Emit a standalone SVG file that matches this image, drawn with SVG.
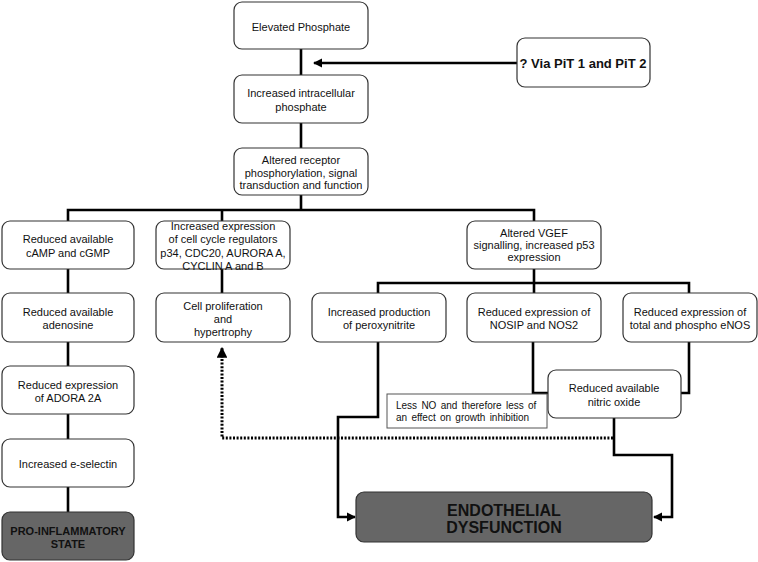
<svg xmlns="http://www.w3.org/2000/svg" width="758" height="562" viewBox="0 0 758 562">
<style>
.box{fill:#fff;stroke:#333;stroke-width:1.2}
.dark{fill:#666;stroke:#333;stroke-width:1.2}
.note{fill:#fff;stroke:#555;stroke-width:1}
.t{font-family:"Liberation Sans",Arial,sans-serif;font-size:11px;fill:#111;text-anchor:middle}
.b{font-family:"Liberation Sans",Arial,sans-serif;font-weight:bold;fill:#111;text-anchor:middle}
.s{font-family:"Liberation Sans",Arial,sans-serif;font-size:10px;fill:#111;word-spacing:1.5px}
.ln{fill:none;stroke:#000;stroke-width:2.6}
.dot{fill:none;stroke:#000;stroke-width:3;stroke-dasharray:2,1.6}
</style>
<defs>
<marker id="ah" viewBox="0 0 10 10" refX="9" refY="5" markerWidth="3.6" markerHeight="3.6" orient="auto" markerUnits="strokeWidth">
<path d="M0,0 L10,5 L0,10 z" fill="#000"/>
</marker>
</defs>
<g id="connectors">
<line class="ln" x1="301" y1="49" x2="301" y2="75"/>
<line class="ln" x1="301" y1="123" x2="301" y2="148"/>
<line class="ln" x1="517" y1="63" x2="314" y2="63" marker-end="url(#ah)"/>
<line class="ln" x1="301" y1="195" x2="301" y2="210"/>
<polyline class="ln" points="68,221 68,210 534,210 534,221"/>
<line class="ln" x1="222" y1="210" x2="222" y2="221"/>
<line class="ln" x1="68" y1="269" x2="68" y2="293"/>
<line class="ln" x1="68" y1="342" x2="68" y2="366"/>
<line class="ln" x1="68" y1="414" x2="68" y2="439"/>
<line class="ln" x1="68" y1="487" x2="68" y2="512"/>
<line class="ln" x1="222" y1="269" x2="222" y2="293"/>
<line class="ln" x1="534" y1="269" x2="534" y2="283"/>
<polyline class="ln" points="378,293 378,283 689,283 689,293"/>
<line class="ln" x1="534" y1="283" x2="534" y2="293"/>
<polyline class="ln" points="533,342 533,393 548,393"/>
<polyline class="ln" points="689,342 689,393 681,393"/>
<polyline class="ln" points="378,342 378,417 338,417 338,517 355,517" marker-end="url(#ah)"/>
<polyline class="ln" points="614,418 614,455 672,455 672,517 654,517" marker-end="url(#ah)"/>
<polyline class="dot" points="613,438 222,438 222,348" marker-end="url(#ah)"/>
</g>
<g id="n-elevated"><rect class="box" x="234" y="2" width="134" height="47" rx="8"/><text class="t" x="301" y="31">Elevated Phosphate</text></g>
<g id="n-pit"><rect class="box" x="517" y="38" width="133" height="49" rx="8"/><text class="b" x="583" y="68" font-size="13">? Via PiT 1 and PiT 2</text></g>
<g id="n-intracellular"><rect class="box" x="234" y="75" width="134" height="48" rx="8"/><text class="t" x="301" y="97">Increased intracellular</text><text class="t" x="301" y="111">phosphate</text></g>
<g id="n-receptor"><rect class="box" x="234" y="148" width="134" height="47" rx="8"/><text class="t" x="301" y="164">Altered receptor</text><text class="t" x="301" y="177">phosphorylation, signal</text><text class="t" x="301" y="189">transduction and function</text></g>
<g id="n-camp"><rect class="box" x="2" y="221" width="132" height="48" rx="8"/><text class="t" x="68" y="243">Reduced available</text><text class="t" x="68" y="257">cAMP and cGMP</text></g>
<g id="n-cellcycle"><rect class="box" x="156" y="221" width="134" height="48" rx="8"/><text class="t" x="223" y="230">Increased expression</text><text class="t" x="223" y="243">of cell cycle regulators</text><text class="t" x="223" y="257">p34, CDC20, AURORA A,</text><text class="t" x="223" y="270">CYCLIN A and B</text></g>
<g id="n-vgef"><rect class="box" x="467" y="221" width="134" height="48" rx="8"/><text class="t" x="534" y="237">Altered VGEF</text><text class="t" x="534" y="249">signalling, increased p53</text><text class="t" x="534" y="261">expression</text></g>
<g id="n-adenosine"><rect class="box" x="2" y="293" width="132" height="49" rx="8"/><text class="t" x="68" y="316">Reduced available</text><text class="t" x="68" y="329">adenosine</text></g>
<g id="n-prolif"><rect class="box" x="156" y="293" width="134" height="49" rx="8"/><text class="t" x="223" y="310">Cell proliferation</text><text class="t" x="223" y="323">and</text><text class="t" x="223" y="336">hypertrophy</text></g>
<g id="n-peroxy"><rect class="box" x="312" y="293" width="134" height="49" rx="8"/><text class="t" x="379" y="316">Increased production</text><text class="t" x="379" y="329">of peroxynitrite</text></g>
<g id="n-nosip"><rect class="box" x="467" y="293" width="134" height="49" rx="8"/><text class="t" x="534" y="316">Reduced expression of</text><text class="t" x="534" y="329">NOSIP and NOS2</text></g>
<g id="n-enos"><rect class="box" x="623" y="293" width="134" height="49" rx="8"/><text class="t" x="690" y="316">Reduced expression of</text><text class="t" x="690" y="329">total and phospho eNOS</text></g>
<g id="n-adora"><rect class="box" x="2" y="366" width="132" height="48" rx="8"/><text class="t" x="68" y="389">Reduced expression</text><text class="t" x="68" y="402">of ADORA 2A</text></g>
<g id="n-no"><rect class="box" x="548" y="370" width="133" height="48" rx="8"/><text class="t" x="614" y="392">Reduced available</text><text class="t" x="614" y="406">nitric oxide</text></g>
<g id="n-note"><rect class="note" x="387" y="394" width="160" height="34"/><text class="s" x="396" y="409">Less NO and therefore less of</text><text class="s" x="396" y="421">an effect on growth inhibition</text></g>
<g id="n-eselectin"><rect class="box" x="2" y="439" width="132" height="48" rx="8"/><text class="t" x="68" y="468">Increased e-selectin</text></g>
<g id="n-proinfl"><rect class="dark" x="2" y="512" width="132" height="48" rx="8"/><text class="b" x="68" y="535" font-size="11">PRO-INFLAMMATORY</text><text class="b" x="68" y="548" font-size="11">STATE</text></g>
<g id="n-endo"><rect class="dark" x="356" y="492" width="296" height="50" rx="8"/><text class="b" x="504" y="516" font-size="16">ENDOTHELIAL</text><text class="b" x="504" y="533" font-size="16">DYSFUNCTION</text></g>
</svg>
